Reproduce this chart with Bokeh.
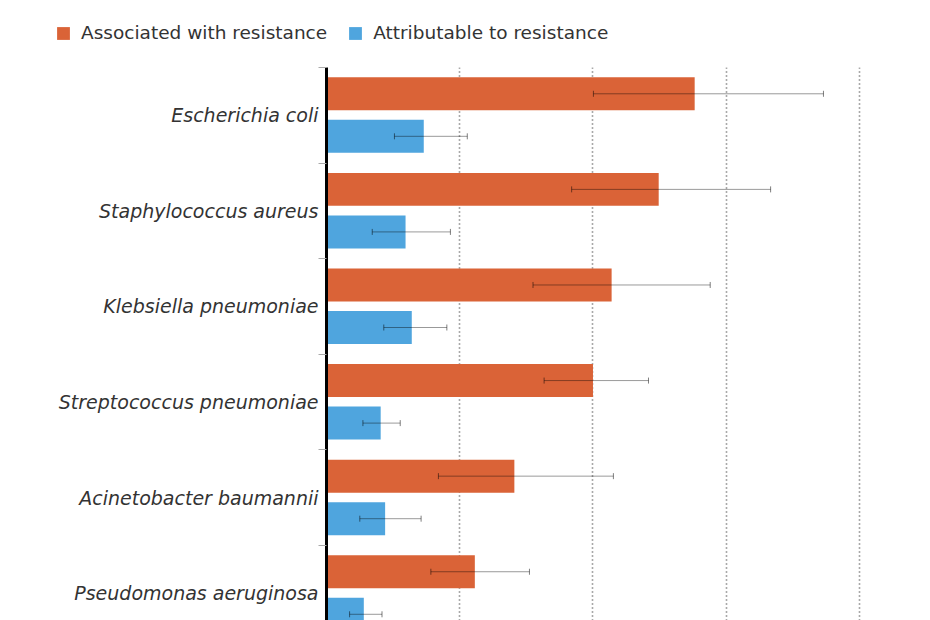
from bokeh.plotting import figure
from bokeh.layouts import column, row
from bokeh.models import (Range1d, FixedTicker, Grid, Whisker, TeeHead,
                          ColumnDataSource, Legend, LegendItem)
from bokeh.embed import file_html
from bokeh.resources import INLINE

# Deaths in thousands (2019)
species = ["Escherichia coli", "Staphylococcus aureus", "Klebsiella pneumoniae",
           "Streptococcus pneumoniae", "Acinetobacter baumannii", "Pseudomonas aeruginosa"]
associated = [829, 748, 642, 600, 423, 334]
assoc_low = [601, 552, 465, 490, 252, 235]
assoc_high = [1119, 1000, 864, 725, 646, 457]
attributable = [219, 178, 192, 122, 132, 84]
attr_low = [153, 103, 129, 82, 75, 52]
attr_high = [317, 279, 271, 166, 213, 125]
grid_ticks = [300, 600, 900, 1200]
legend_labels = ["Associated with resistance", "Attributable to resistance"]

ORANGE = "#DA6337"
BLUE = "#4FA5DE"
FONT = "DejaVu Sans"

n = len(species)
centers = [i + 0.5 for i in range(n)]
y_assoc = [i + 0.275 for i in range(n)]
y_attr = [i + 0.72 for i in range(n)]

src_a = ColumnDataSource(dict(y=y_assoc, v=associated, lo=assoc_low, hi=assoc_high))
src_b = ColumnDataSource(dict(y=y_attr, v=attributable, lo=attr_low, hi=attr_high))

# ---- legend strip on top (its own frame spans the full width) ----
lg = figure(width=930, height=67, output_backend="svg", toolbar_location=None,
            x_range=Range1d(0, 930), y_range=Range1d(100, 167),
            x_axis_location=None, y_axis_location=None,
            min_border=0, min_border_left=0, min_border_right=0,
            min_border_top=0, min_border_bottom=0)
lg.outline_line_color = None
lg.xgrid.visible = False
lg.ygrid.visible = False
la = lg.hbar(y="y", right="v", left=0, height=0.345, source=src_a,
             fill_color=ORANGE, line_color=None)
lb = lg.hbar(y="y", right="v", left=0, height=0.345, source=src_b,
             fill_color=BLUE, line_color=None)
legend = Legend(items=[LegendItem(label=legend_labels[0], renderers=[la]),
                       LegendItem(label=legend_labels[1], renderers=[lb])],
                orientation="horizontal", location=(55, 24),
                glyph_width=16, glyph_height=16, label_standoff=10, spacing=20,
                padding=0, margin=0, border_line_color=None,
                background_fill_alpha=0,
                label_text_font=FONT, label_text_font_size="18.5px",
                label_text_color="#333333")
lg.add_layout(legend, "center")

# ---- main chart ----
p = figure(width=930, height=553, output_backend="svg", toolbar_location=None,
           x_range=Range1d(0, 1360), y_range=Range1d(5.785, 0),
           x_axis_location=None, min_border_top=0, min_border_bottom=0,
           min_border_right=0, min_border_left=326)
p.outline_line_color = None
p.ygrid.visible = False
p.xgrid.visible = False

grid = Grid(dimension=0, ticker=FixedTicker(ticks=grid_ticks),
            grid_line_color="#555555", grid_line_width=1.6, grid_line_dash="1 3")
p.add_layout(grid)

p.hbar(y="y", right="v", left=0, height=0.345, source=src_a,
       fill_color=ORANGE, line_color=None)
p.hbar(y="y", right="v", left=0, height=0.345, source=src_b,
       fill_color=BLUE, line_color=None)

for src in (src_a, src_b):
    w = Whisker(source=src, base="y", lower="lo", upper="hi", dimension="width",
                level="overlay",
                line_color="black", line_alpha=0.4, line_width=1,
                lower_head=TeeHead(size=6, line_color="black", line_alpha=0.5, line_width=1),
                upper_head=TeeHead(size=6, line_color="black", line_alpha=0.5, line_width=1))
    p.add_layout(w)

yax = p.yaxis[0]
yax.ticker = FixedTicker(ticks=centers, minor_ticks=[float(i) for i in range(n + 1)])
yax.major_label_overrides = {c: s for c, s in zip(centers, species)}
yax.major_tick_line_color = None
yax.major_tick_out = 0
yax.major_tick_in = 0
yax.minor_tick_out = 8
yax.minor_tick_in = 0
yax.minor_tick_line_color = "#aaaaaa"
yax.minor_tick_line_width = 1
yax.axis_line_color = "black"
yax.axis_line_width = 3
yax.major_label_standoff = 0
yax.major_label_text_font = FONT
yax.major_label_text_font_style = "italic"
yax.major_label_text_font_size = "19px"
yax.major_label_text_color = "#333333"

layout = column(row(lg), p, spacing=0)
open("out.html", "w").write(file_html(layout, INLINE))
